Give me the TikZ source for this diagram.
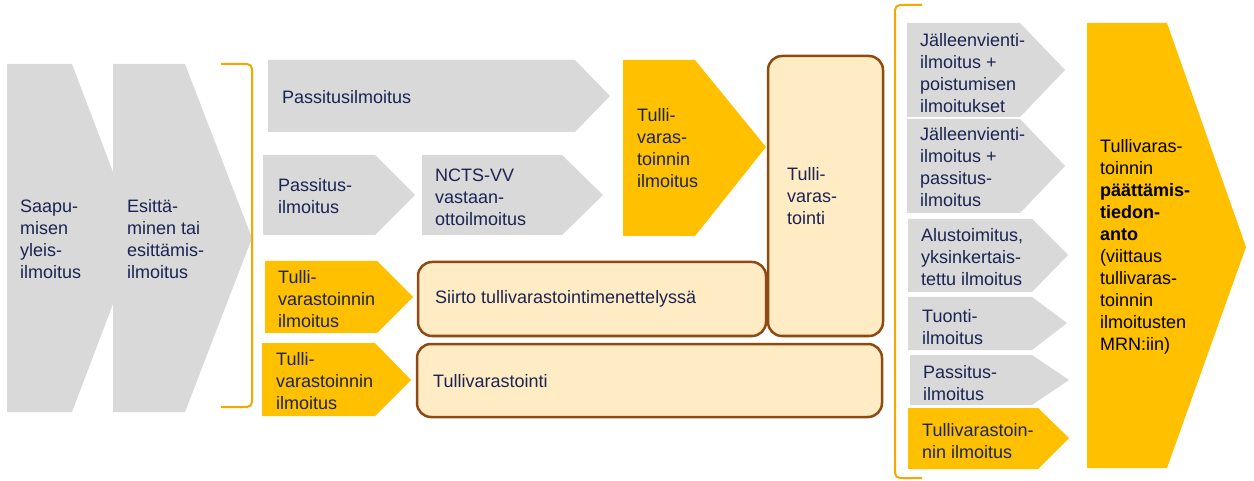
\documentclass[tikz,border=0pt]{standalone}
\usepackage{fontspec}
\setmainfont{Liberation Sans}
\definecolor{greyfill}{HTML}{D9D9D9}
\definecolor{yellowfill}{HTML}{FFC000}
\definecolor{creamfill}{HTML}{FFEBC4}
\definecolor{brownline}{HTML}{8E4A10}
\definecolor{bracketcol}{HTML}{F2A900}
\definecolor{navytext}{HTML}{1B2452}
\tikzset{
  greyshape/.style={fill=greyfill, draw=none},
  yellowshape/.style={fill=yellowfill, draw=none},
  creambox/.style={fill=creamfill, draw=brownline, line width=2.5pt, rounded corners=14pt},
  bracketline/.style={draw=bracketcol, line width=2pt, rounded corners=5pt},
  lbl/.style={font={\fontsize{18}{22}\selectfont}, text=navytext, align=left, anchor=west, inner sep=0pt},
  blacklbl/.style={lbl, text=black}
}
\begin{document}
\begin{tikzpicture}[x=1pt,y=-1pt]
\path[use as bounding box, fill=white] (0,0) rectangle (1254,481);

% left chevrons
\path[greyshape] (7,64) -- (72,64) -- (138,238) -- (72,412) -- (7,412) -- cycle;
\path[greyshape] (113,64) -- (185,64) -- (252,238) -- (185,412) -- (113,412) -- cycle;
\node[lbl] (saap) at (20,239) {Saapu-\\misen\\yleis-\\ilmoitus};
\node[lbl] (esit) at (127,239) {Esittä-\\minen tai\\esittämis-\\ilmoitus};

% left bracket
\draw[bracketline] (221,64) -- (252,64) -- (252,407) -- (221,407);

% row 1
\path[greyshape] (268,60) -- (575,60) -- (610,96) -- (575,132) -- (268,132) -- cycle;
\node[lbl] (pass1) at (282,97) {Passitusilmoitus};

% row 2
\path[greyshape] (263,155) -- (375,155) -- (415,195) -- (375,235) -- (263,235) -- cycle;
\node[lbl] (pass2) at (278,196) {Passitus-\\ilmoitus};
\path[greyshape] (422,155) -- (562,155) -- (603,195) -- (562,235) -- (422,235) -- cycle;
\node[lbl] (ncts) at (435,197) {NCTS-VV\\vastaan-\\ottoilmoitus};

% yellow arrow top
\path[yellowshape] (623,60) -- (695,60) -- (766,147) -- (695,236) -- (623,236) -- cycle;
\node[lbl] (tv1) at (637,148) {Tulli-\\varas-\\toinnin\\ilmoitus};

% tall box
\draw[creambox] (768,56) rectangle (883,336);
\node[lbl] (tvbox) at (787,196) {Tulli-\\varas-\\tointi};

% row 3
\path[yellowshape] (265,261) -- (377,261) -- (413,297) -- (377,333) -- (265,333) -- cycle;
\node[lbl] (tv2) at (278,299) {Tulli-\\varastoinnin\\ilmoitus};
\draw[creambox] (418,262) rectangle (766,336);
\node[lbl] (siirto) at (435,299) {Siirto tullivarastointimenettelyssä};

% row 4
\path[yellowshape] (262,343) -- (375,343) -- (411,380) -- (375,416) -- (262,416) -- cycle;
\node[lbl] (tv3) at (276,381) {Tulli-\\varastoinnin\\ilmoitus};
\draw[creambox] (417,344) rectangle (882,417);
\node[lbl] (tvarast) at (433,381) {Tullivarastointi};

% right bracket
\draw[bracketline] (922,5) -- (895,5) -- (895,478) -- (922,478);

% right column
\path[greyshape] (907,23) -- (1020,23) -- (1065,70) -- (1020,117) -- (907,117) -- cycle;
\node[lbl] (ra) at (920,73) {Jälleenvienti-\\ilmoitus +\\poistumisen\\ilmoitukset};
\path[greyshape] (907,119) -- (1020,119) -- (1065,166) -- (1020,213) -- (907,213) -- cycle;
\node[lbl] (rb) at (920,167) {Jälleenvienti-\\ilmoitus +\\passitus-\\ilmoitus};
\path[greyshape] (908,219) -- (1032,219) -- (1068,255) -- (1032,292) -- (908,292) -- cycle;
\node[lbl] (rc) at (921,257) {Alustoimitus,\\yksinkertais-\\tettu ilmoitus};
\path[greyshape] (908,297) -- (1032,297) -- (1067,323) -- (1032,350) -- (908,350) -- cycle;
\node[lbl] (rd) at (922,327) {Tuonti-\\ilmoitus};
\path[greyshape] (910,355) -- (1032,355) -- (1069,380) -- (1032,405) -- (910,405) -- cycle;
\node[lbl] (re) at (923,383) {Passitus-\\ilmoitus};
\path[yellowshape] (908,408) -- (1038,408) -- (1069,438) -- (1038,469) -- (908,469) -- cycle;
\node[lbl] (rf) at (922,441) {Tullivarastoin-\\nin ilmoitus};

% big final arrow
\path[yellowshape] (1087,23) -- (1167,23) -- (1246,247) -- (1167,468) -- (1087,468) -- cycle;
\node[blacklbl] (final) at (1100,247) {Tullivaras-\\toinnin\\\textbf{päättämis-}\\\textbf{tiedon-}\\\textbf{anto}\\(viittaus\\tullivaras-\\toinnin\\ilmoitusten\\MRN:iin)};
\end{tikzpicture}
\end{document}
